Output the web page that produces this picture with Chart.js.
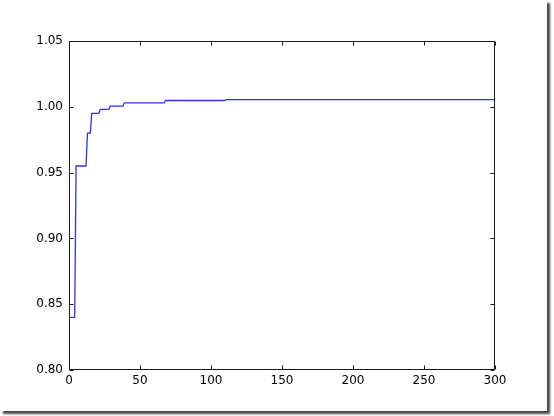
<!DOCTYPE html>
<html>
<head>
<meta charset="utf-8">
<script src="https://cdn.jsdelivr.net/npm/chart.js@4/dist/chart.umd.min.js"></script>
<style>
  html, body { margin: 0; padding: 0; background: #ffffff; }
  #wrap { position: absolute; left: 0; top: 0; width: 547px; height: 411px; background: #fff;
          box-shadow: 3px 3px 2px rgba(40,40,40,0.85); }
  canvas { display: block; }
</style>
</head>
<body>
<div id="wrap"><canvas id="c" width="547" height="411"></canvas></div>
<script>
// Data
const xValues = [0, 4, 5, 12, 13, 15, 16, 21, 22, 28, 29, 38, 39, 67, 68, 110, 111, 300];
const yValues = [0.84, 0.84, 0.955, 0.955, 0.98, 0.98, 0.995, 0.995, 0.998, 0.998, 1.0005, 1.0005, 1.003, 1.003, 1.0048, 1.0048, 1.0055, 1.0055];
const xTickValues = [0, 50, 100, 150, 200, 250, 300];
const xTickLabels = ['0', '50', '100', '150', '200', '250', '300'];
const yTickValues = [0.80, 0.85, 0.90, 0.95, 1.00, 1.05];
const yTickLabels = ['0.80', '0.85', '0.90', '0.95', '1.00', '1.05'];

const points = xValues.map((x, i) => ({ x: x, y: yValues[i] }));

const frameTicks = {
  id: 'frameTicks',
  afterDatasetsDraw(chart) {
    const ctx = chart.ctx;
    const a = chart.chartArea;
    const xs = chart.scales.x, ys = chart.scales.y;
    const L = Math.round(a.left) + 0.5, R = Math.round(a.right) - 0.5;
    const T = Math.round(a.top) + 0.5, B = Math.round(a.bottom) - 0.5;
    ctx.save();
    ctx.strokeStyle = '#1a1a1a';
    ctx.lineWidth = 1;
    ctx.beginPath();
    ctx.rect(L, T, R - L, B - T);
    ctx.stroke();
    const len = 4;
    ctx.beginPath();
    xTickValues.forEach(v => {
      const px = Math.round(xs.getPixelForValue(v)) + 0.5;
      ctx.moveTo(px, B); ctx.lineTo(px, B - len);
      ctx.moveTo(px, T); ctx.lineTo(px, T + len);
    });
    yTickValues.forEach(v => {
      const py = Math.round(ys.getPixelForValue(v)) + 0.5;
      ctx.moveTo(L, py); ctx.lineTo(L + len, py);
      ctx.moveTo(R, py); ctx.lineTo(R - len, py);
    });
    ctx.stroke();
    ctx.restore();
  }
};

new Chart(document.getElementById('c'), {
  type: 'line',
  data: {
    datasets: [{
      data: points,
      borderColor: 'rgb(50,50,235)',
      borderWidth: 1.3,
      pointRadius: 0,
      fill: false,
      tension: 0
    }]
  },
  options: {
    responsive: false,
    devicePixelRatio: 1,
    animation: false,
    layout: { padding: { left: 0, top: 41, right: 52, bottom: 0 } },
    plugins: { legend: { display: false }, tooltip: { enabled: false } },
    scales: {
      x: {
        type: 'linear', min: 0, max: 300,
        afterBuildTicks: s => { s.ticks = xTickValues.map(v => ({ value: v })); },
        afterFit: s => { s.height = 41; },
        grid: { display: false, drawTicks: false },
        border: { display: false },
        ticks: {
          color: '#000', padding: 4, maxRotation: 0, autoSkip: false,
          font: { family: 'DejaVu Sans', size: 12 },
          callback: (v) => { const i = xTickValues.indexOf(v); return i >= 0 ? xTickLabels[i] : ''; }
        }
      },
      y: {
        type: 'linear', min: 0.80, max: 1.05,
        afterBuildTicks: s => { s.ticks = yTickValues.map(v => ({ value: v })); },
        afterFit: s => { s.width = 69; },
        grid: { display: false, drawTicks: false },
        border: { display: false },
        ticks: {
          color: '#000', padding: 6, autoSkip: false,
          font: { family: 'DejaVu Sans', size: 12 },
          callback: (v) => {
            let best = 0, d = 1e9;
            yTickValues.forEach((t, i) => { if (Math.abs(t - v) < d) { d = Math.abs(t - v); best = i; } });
            return yTickLabels[best];
          }
        }
      }
    }
  },
  plugins: [frameTicks]
});
</script>
</body>
</html>
